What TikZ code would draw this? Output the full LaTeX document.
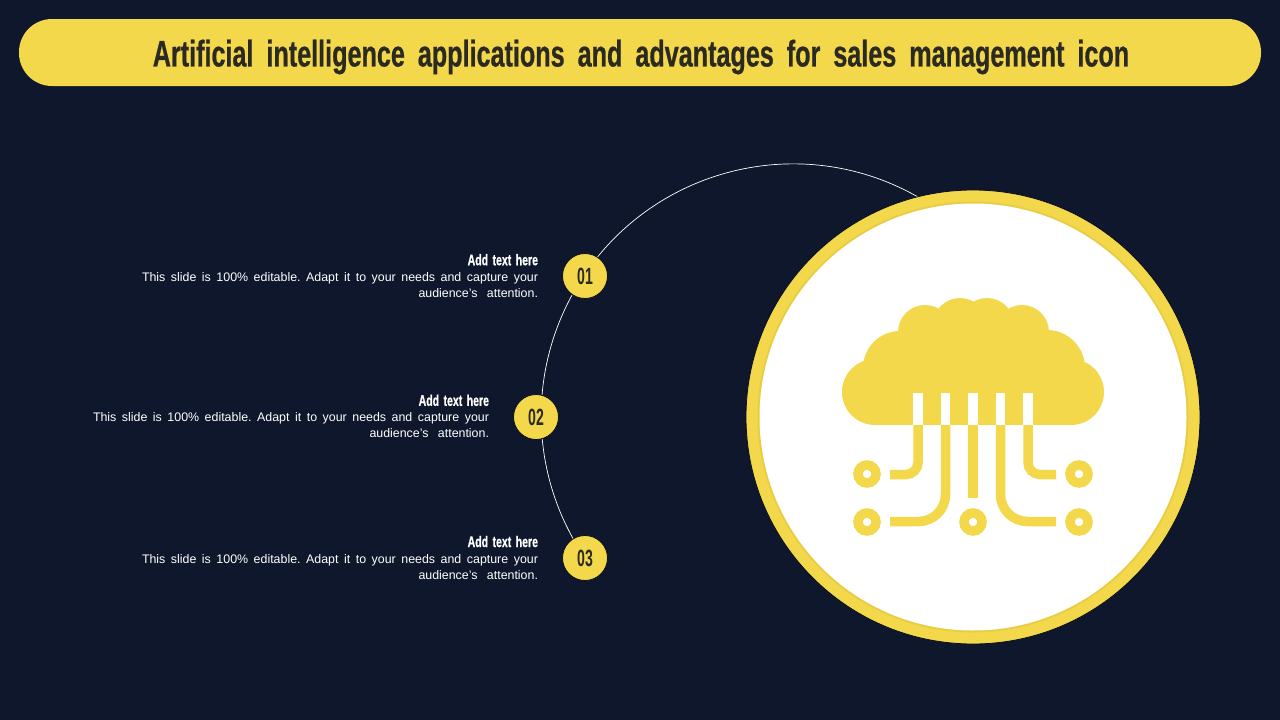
\documentclass[tikz,border=0pt]{standalone}
\usepackage{fontspec}
\setmainfont{Liberation Sans}
\newfontface\condA[FakeStretch=0.68,FakeBold=0.6]{Liberation Sans Bold}
\newfontface\condN[FakeStretch=0.6]{Liberation Sans Bold}
\definecolor{bgnavy}{HTML}{0E172B}
\definecolor{sun}{HTML}{F4D84C}
\definecolor{sundark}{HTML}{E8CC44}
\definecolor{inkdark}{HTML}{2B2A22}
\definecolor{edgedark}{HTML}{0A0E18}
\tikzset{
  bullet/.style={circle,fill=sun,draw=edgedark,line width=0.8pt,minimum size=45pt,inner sep=0pt,text=inkdark,font=\condN\fontsize{23.5}{25}\selectfont},
  blurb/.style={inner sep=0pt,outer sep=0pt,anchor=east,align=right,text=white,font=\fontsize{12.4}{16}\selectfont},
  wire/.style={draw=sun,line width=9.5pt,line cap=butt},
  pad/.style={circle,draw=sun,line width=9.5pt,fill=white,minimum size=18pt,inner sep=0pt},
  slit/.style={fill=white,draw=none}
}
\newcommand{\blurbtext}{\frenchspacing\makebox[396pt][s]{This slide is 100\% editable. Adapt it to your needs and capture your}\\[0pt]\makebox[119.5pt][s]{audience's attention.}}
\newcommand{\addhead}{{\condA\fontsize{15.5}{16}\selectfont Add\hspace{1.5pt} text\hspace{1.5pt} here}}
\begin{document}
\begin{tikzpicture}[x=1pt,y=-1pt]
\useasboundingbox (0,0) rectangle (1280,720);
\fill[bgnavy] (0,0) rectangle (1280,720);
\node[fill=sun,rounded corners=33pt,minimum width=1242pt,minimum height=67pt,inner sep=0pt] (banner) at (640,52.5) {};
\node[text=inkdark,inner sep=0pt,font=\condA\fontsize{37}{40}\selectfont] (title) at (641,57) {Artificial\hspace{6pt} intelligence\hspace{6pt} applications\hspace{6pt} and\hspace{6pt} advantages\hspace{6pt} for\hspace{6pt} sales\hspace{6pt} management\hspace{6pt} icon};
% arc
\coordinate (arcstart) at (918,197);
\draw[white,line width=0.7pt] (arcstart) arc[start angle=-60.3,end angle=-214.3,radius=252];
% big circle
\node[circle,fill=sun,draw=edgedark,line width=0.8pt,minimum size=454pt,inner sep=0pt] (ring) at (973,417) {};
\node[circle,fill=sundark,minimum size=431pt,inner sep=0pt] (ringedge) at (973,417) {};
\node[circle,fill=white,minimum size=427pt,inner sep=0pt] (disc) at (973,417) {};
% cloud
\foreach \cx/\cy/\cr in {875/392/33,900/368/37,925/332/27,960/325/27,987/325/27,1022/332/27,1047/368/38,1071/392/33}{\fill[sun] (\cx,\cy) circle[radius=\cr];}
\fill[sun] (875,360) rectangle (1071,425);
\fill[sun] (925,325) rectangle (1022,365);
\foreach \sx in {913.3,940.8,968.3,995.8,1023.3}{\fill[slit] (\sx,393) rectangle ++(9.5,32);}
% icon pads
\node[pad] (p1) at (867,474) {};
\node[pad] (p2) at (1079,474) {};
\node[pad] (p3) at (867,522) {};
\node[pad] (p4) at (973,522) {};
\node[pad] (p5) at (1079,522) {};
\coordinate (w1) at (918,425); \coordinate (w2) at (945.5,425); \coordinate (w3) at (973,425);
\coordinate (w4) at (1000.5,425); \coordinate (w5) at (1028,425);
\draw[wire,rounded corners=12pt] (w1) -- (918,474.5) -- (890,474.5);
\draw[wire,rounded corners=27pt] (w2) -- (945.5,521.5) -- (890,521.5);
\draw[wire] (w3) -- (973,498);
\draw[wire,rounded corners=27pt] (w4) -- (1000.5,521.5) -- (1056,521.5);
\draw[wire,rounded corners=12pt] (w5) -- (1028,474.5) -- (1056,474.5);
% bullets
\node[bullet] (n1) at (585,276) {01};
\node[bullet] (n2) at (536,417) {02};
\node[bullet] (n3) at (585,558) {03};
% text
\node[blurb] (t1) at (538,275.7) {\addhead\\\blurbtext};
\node[blurb] (t2) at (489,416.3) {\addhead\\\blurbtext};
\node[blurb] (t3) at (538,557.5) {\addhead\\\blurbtext};
\end{tikzpicture}
\end{document}
